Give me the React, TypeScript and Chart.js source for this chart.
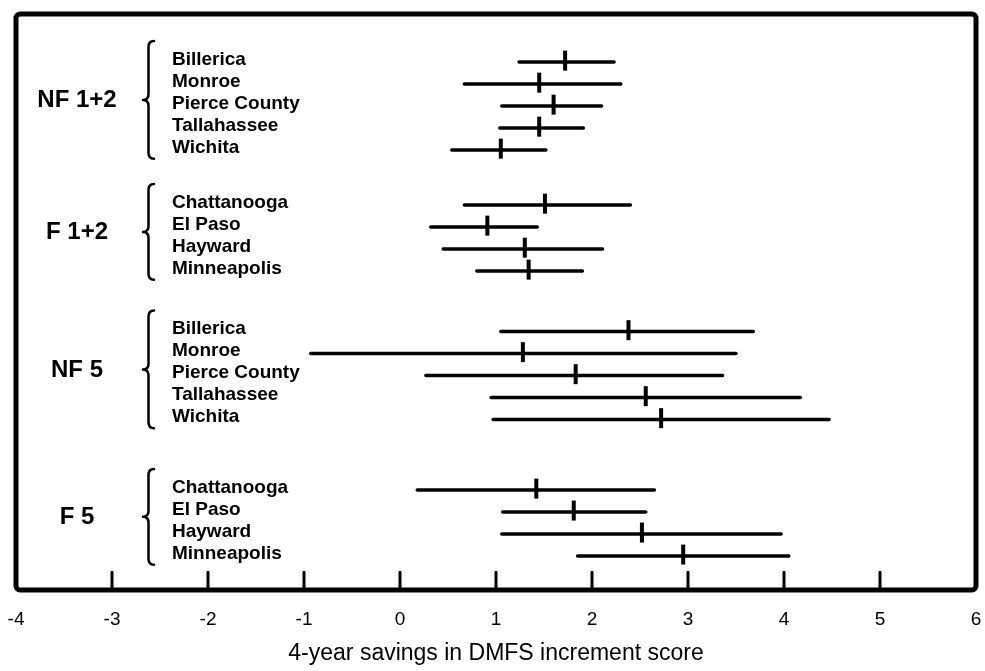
import React, { useEffect, useRef } from 'react';
import { Chart, registerables } from 'chart.js';

Chart.register(...registerables);

// ---- data ----
const groupNames = ['NF 1+2', 'F 1+2', 'NF 5', 'F 5'];

const nf12Sites = ['Billerica', 'Monroe', 'Pierce County', 'Tallahassee', 'Wichita'];
const nf12Low = [1.24, 0.67, 1.06, 1.04, 0.54];
const nf12Mean = [1.72, 1.45, 1.6, 1.45, 1.05];
const nf12High = [2.23, 2.3, 2.1, 1.91, 1.52];

const f12Sites = ['Chattanooga', 'El Paso', 'Hayward', 'Minneapolis'];
const f12Low = [0.67, 0.32, 0.45, 0.8];
const f12Mean = [1.51, 0.91, 1.3, 1.34];
const f12High = [2.4, 1.43, 2.11, 1.9];

const nf5Sites = ['Billerica', 'Monroe', 'Pierce County', 'Tallahassee', 'Wichita'];
const nf5Low = [1.05, -0.93, 0.27, 0.95, 0.97];
const nf5Mean = [2.38, 1.28, 1.83, 2.56, 2.72];
const nf5High = [3.68, 3.5, 3.36, 4.17, 4.47];

const f5Sites = ['Chattanooga', 'El Paso', 'Hayward', 'Minneapolis'];
const f5Low = [0.18, 1.07, 1.06, 1.85];
const f5Mean = [1.42, 1.81, 2.52, 2.95];
const f5High = [2.65, 2.56, 3.97, 4.05];

const xTickValues = [-4, -3, -2, -1, 0, 1, 2, 3, 4, 5, 6];
const xTitle = '4-year savings in DMFS increment score';

// ---- layout constants ----
const groupGaps = [0, 2.5, 2.75, 3.2];
const Y_MIN = -2.18;
const Y_MAX = 24.0;

type Row = { site: string; low: number; mean: number; high: number; pos: number };
type Group = { name: string; rows: Row[] };

function buildGroups(): Group[] {
  const src = [
    { sites: nf12Sites, low: nf12Low, mean: nf12Mean, high: nf12High },
    { sites: f12Sites, low: f12Low, mean: f12Mean, high: f12High },
    { sites: nf5Sites, low: nf5Low, mean: nf5Mean, high: nf5High },
    { sites: f5Sites, low: f5Low, mean: f5Mean, high: f5High },
  ];
  let pos = 0;
  const out: Group[] = [];
  src.forEach((g, gi) => {
    if (gi > 0) pos += groupGaps[gi];
    const rows: Row[] = g.sites.map((s, i) => {
      const r = { site: s, low: g.low[i], mean: g.mean[i], high: g.high[i], pos: pos };
      if (i < g.sites.length - 1) pos += 1;
      return r;
    });
    out.push({ name: groupNames[gi], rows });
  });
  return out;
}

const FONT = "'Liberation Sans', Arial, Helvetica, sans-serif";

const decorPlugin = {
  id: 'decor',
  afterDraw(chart: any) {
    const ctx = chart.ctx as CanvasRenderingContext2D;
    const { left, right, top, bottom } = chart.chartArea;
    const xs = chart.scales.x;
    const ys = chart.scales.y;
    const groups: Group[] = chart.options.plugins.decor.groups;
    ctx.save();
    // frame
    ctx.strokeStyle = '#000';
    ctx.lineWidth = 5;
    ctx.lineJoin = 'round';
    ctx.beginPath();
    (ctx as any).roundRect(left, top, right - left, bottom - top, 4);
    ctx.stroke();
    // inner tick marks
    ctx.lineWidth = 3;
    ctx.lineCap = 'butt';
    xTickValues.slice(1, -1).forEach((v) => {
      const px = xs.getPixelForValue(v);
      ctx.beginPath();
      ctx.moveTo(px, bottom);
      ctx.lineTo(px, bottom - 19);
      ctx.stroke();
    });
    // labels and braces
    ctx.fillStyle = '#000';
    groups.forEach((g) => {
      const first = g.rows[0].pos;
      const last = g.rows[g.rows.length - 1].pos;
      // group label
      ctx.font = `bold 24px ${FONT}`;
      ctx.textAlign = 'center';
      ctx.textBaseline = 'middle';
      ctx.fillText(g.name, 77, ys.getPixelForValue((first + last) / 2 - 0.25));
      // brace
      const yTop = ys.getPixelForValue(first - 0.95);
      const yBot = ys.getPixelForValue(last + 0.4);
      const yMid = (yTop + yBot) / 2;
      const xr = 154, xm = 148.5, xl = 143, r = 6;
      ctx.lineWidth = 2.5;
      ctx.lineCap = 'round';
      ctx.beginPath();
      ctx.moveTo(xr, yTop);
      ctx.quadraticCurveTo(xm, yTop, xm, yTop + r);
      ctx.lineTo(xm, yMid - r);
      ctx.quadraticCurveTo(xm, yMid, xl, yMid);
      ctx.quadraticCurveTo(xm, yMid, xm, yMid + r);
      ctx.lineTo(xm, yBot - r);
      ctx.quadraticCurveTo(xm, yBot, xr, yBot);
      ctx.stroke();
      // row labels
      ctx.font = `bold 19px ${FONT}`;
      ctx.textAlign = 'left';
      g.rows.forEach((row) => {
        ctx.fillText(row.site, 172, ys.getPixelForValue(row.pos) - 2.5);
      });
    });
    ctx.restore();
  },
};

const zeroPad = (s: any) => {
  s.paddingLeft = 0;
  s.paddingRight = 0;
  s.paddingTop = 0;
  s.paddingBottom = 0;
};

export default function App() {
  const ref = useRef<HTMLCanvasElement | null>(null);
  useEffect(() => {
    if (!ref.current) return;
    const groups = buildGroups();
    const rows = groups.flatMap((g) => g.rows);
    const lineSets = rows.map((r) => ({
      type: 'line' as const,
      data: [
        { x: r.low, y: r.pos },
        { x: r.high, y: r.pos },
      ],
      borderColor: '#000',
      borderWidth: 3.5,
      borderCapStyle: 'round' as const,
      pointRadius: 0,
      fill: false,
      tension: 0,
    }));
    const meanSet = {
      type: 'scatter' as const,
      data: rows.map((r) => ({ x: r.mean, y: r.pos - 0.06 })),
      pointStyle: 'line' as const,
      rotation: 90,
      pointRadius: 10,
      borderWidth: 4,
      borderColor: '#000',
      backgroundColor: '#000',
    };
    const chart = new Chart(ref.current, {
      type: 'line',
      data: { datasets: [...lineSets, meanSet] as any },
      options: {
        animation: false,
        responsive: false,
        devicePixelRatio: 1,
        layout: { autoPadding: false, padding: { left: 16, right: 9, top: 14, bottom: 0 } },
        plugins: {
          legend: { display: false },
          title: { display: false },
          tooltip: { enabled: false },
          decor: { groups },
        } as any,
        scales: {
          x: {
            type: 'linear',
            min: -4,
            max: 6,
            afterBuildTicks: (s: any) => {
              s.ticks = xTickValues.map((v) => ({ value: v }));
            },
            afterFit: (s: any) => {
              s.height = 81;
              zeroPad(s);
            },
            grid: { display: false, drawTicks: false },
            border: { display: false },
            ticks: {
              autoSkip: false,
              maxRotation: 0,
              padding: 18,
              color: '#000',
              font: { family: FONT, size: 19 },
            },
            title: {
              display: true,
              text: xTitle,
              color: '#000',
              font: { family: FONT, size: 23 },
              padding: { top: 15, bottom: 4 },
            },
          },
          y: {
            type: 'linear',
            display: false,
            reverse: true,
            min: Y_MIN,
            max: Y_MAX,
            afterFit: (s: any) => {
              s.width = 0;
              zeroPad(s);
            },
          },
        },
      },
      plugins: [decorPlugin],
    });
    return () => chart.destroy();
  }, []);
  return (
    <div style={{ position: 'fixed', left: 0, top: 0, width: 985, height: 671, background: '#fff' }}>
      <canvas ref={ref} width={985} height={671} style={{ display: 'block', width: 985, height: 671 }} />
    </div>
  );
}
